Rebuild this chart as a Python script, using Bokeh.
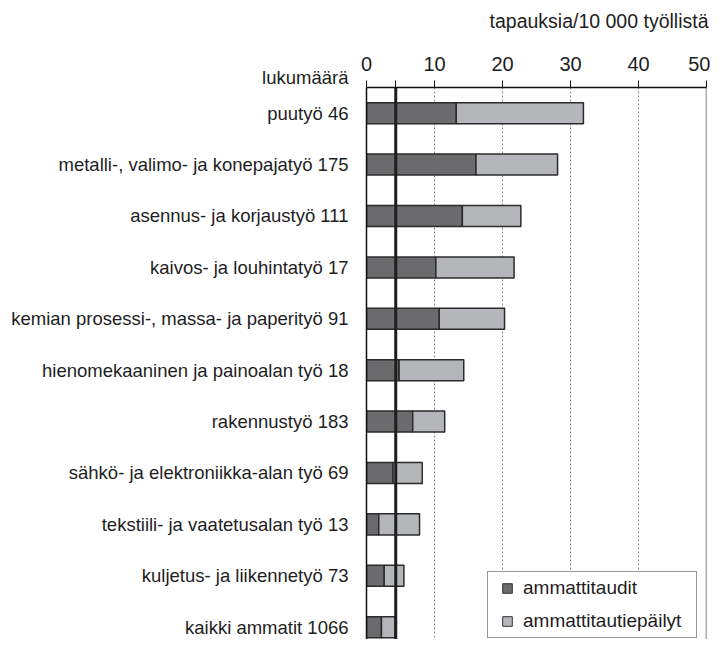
import numpy as np
from bokeh.plotting import figure
from bokeh.models import Range1d, FixedTicker, Span, Legend, LegendItem
from bokeh.embed import file_html
from bokeh.resources import INLINE

# ---- data ----
categories = [
    "puutyö",
    "metalli-, valimo- ja konepajatyö",
    "asennus- ja korjaustyö",
    "kaivos- ja louhintatyö",
    "kemian prosessi-, massa- ja paperityö",
    "hienomekaaninen ja painoalan työ",
    "rakennustyö",
    "sähkö- ja elektroniikka-alan työ",
    "tekstiili- ja vaatetusalan työ",
    "kuljetus- ja liikennetyö",
    "kaikki ammatit",
]
counts = [46, 175, 111, 17, 91, 18, 183, 69, 13, 73, 1066]
ammattitaudit = [13.2, 16.1, 14.1, 10.2, 10.7, 4.8, 6.8, 3.9, 1.8, 2.6, 2.2]
ammattitautiepailyt = [18.7, 12.0, 8.6, 11.5, 9.6, 9.5, 4.7, 4.3, 6.0, 2.9, 2.0]
x_ticks = [0, 10, 20, 30, 40, 50]
reference_value = 4.3
series_names = ["ammattitaudit", "ammattitautiepäilyt"]
axis_title = "tapauksia/10 000 työllistä"
count_title = "lukumäärä"

FONT = "Liberation Sans"
TXT = "#1e1e1e"
DARK = "#6b6b6e"
LIGHT = "#b5b6b9"
EDGE = "#2b2b2b"

ypos = np.arange(len(categories))
stack_end = np.add(ammattitaudit, ammattitautiepailyt)
top_edge = -0.5
heading_tick = -0.442

p = figure(width=710, height=639,
           x_range=Range1d(0, 50), y_range=Range1d(10.24, top_edge),
           x_axis_location="above",
           output_backend="svg", toolbar_location=None,
           min_border_left=366, min_border_right=4,
           min_border_top=87, min_border_bottom=0)
p.outline_line_color = None
p.background_fill_color = "white"
p.border_fill_color = "white"

# title (top right); the blank second line lifts the text to the top
p.title.text = axis_title + "\n "
p.title.align = "right"
p.title.vertical_align = "bottom"
p.title.text_font = FONT
p.title.text_font_size = "19.5px"
p.title.text_font_style = "normal"
p.title.text_color = TXT
p.title.standoff = 0
p.title.offset = -2

# grid
p.ygrid.visible = False
p.xgrid.ticker = FixedTicker(ticks=[10, 20, 30, 40])
p.xgrid.grid_line_color = "#8a8a8a"
p.xgrid.grid_line_dash = "2 2"
p.xgrid.grid_line_width = 1

# bars
p.hbar(y=ypos, left=0, right=ammattitaudit, height=0.409,
       fill_color=DARK, line_color=EDGE, line_width=1.5)
p.hbar(y=ypos, left=ammattitaudit, right=stack_end, height=0.409,
       fill_color=LIGHT, line_color=EDGE, line_width=1.5)

# right border line & reference line
p.add_layout(Span(location=50, dimension="height", line_color="#5a5a5a", line_width=1.5))
p.add_layout(Span(location=reference_value, dimension="height", line_color="#1e1e1e", line_width=3))

# x axis (top); an unlabeled tick marks the reference line above the axis
# (listed first so that the last tick, 50, keeps its label inside the canvas)
xa = p.xaxis[0]
xa.ticker = FixedTicker(ticks=[reference_value] + x_ticks)
xa.major_label_overrides = {reference_value: ""}
xa.minor_tick_line_color = None
xa.major_tick_out = 7
xa.major_tick_in = 0
xa.major_tick_line_color = "#111111"
xa.major_tick_line_width = 1
xa.axis_line_color = "#111111"
xa.axis_line_width = 1.3
xa.major_label_text_font = FONT
xa.major_label_text_font_size = "20px"
xa.major_label_text_color = TXT
xa.major_label_standoff = 10

# y axis (left) with category labels (+ "lukumäärä" heading at the top edge)
ya = p.yaxis[0]
ya.ticker = FixedTicker(ticks=[heading_tick] + list(ypos))
overrides = {int(i): f"{c} {n}" for i, (c, n) in enumerate(zip(categories, counts))}
overrides[heading_tick] = count_title + "\n "
ya.major_label_overrides = overrides
ya.major_tick_line_color = None
ya.major_tick_out = 0
ya.major_tick_in = 0
ya.minor_tick_line_color = None
ya.axis_line_color = "#111111"
ya.axis_line_width = 1.5
ya.major_label_standoff = 18
ya.major_label_text_font = FONT
ya.major_label_text_font_size = "18.5px"
ya.major_label_text_color = TXT

# legend (marker proxies of size 0, hidden under the axis line)
r1 = p.scatter(x=[x_ticks[0]], y=[ypos[0]], marker="square", size=0,
               fill_color=DARK, line_color="#333333", line_width=1)
r2 = p.scatter(x=[x_ticks[0]], y=[ypos[0]], marker="square", size=0,
               fill_color=LIGHT, line_color="#333333", line_width=1)
legend = Legend(items=[LegendItem(label=series_names[0], renderers=[r1]),
                       LegendItem(label=series_names[1], renderers=[r2])],
                location=(121, 1), glyph_width=30, glyph_height=24, label_height=24,
                spacing=9, padding=4, margin=0, label_standoff=1, label_width=169,
                label_text_font=FONT, label_text_font_size="19px", label_text_color=TXT,
                border_line_color="#333333", border_line_width=1,
                background_fill_color="white", background_fill_alpha=1)
p.add_layout(legend, "center")

open("out.html", "w").write(file_html(p, INLINE))
